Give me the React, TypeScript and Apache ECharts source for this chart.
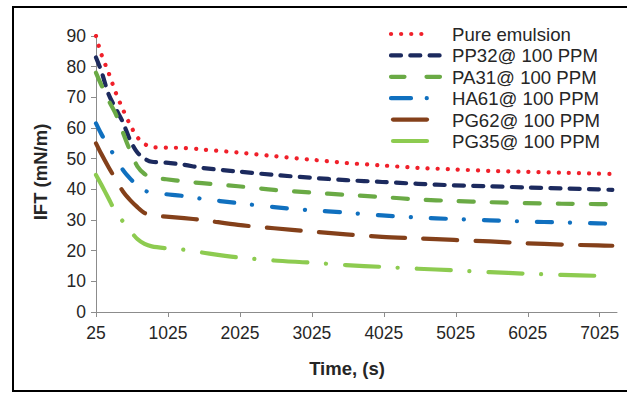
import React, { useEffect, useRef } from "react";
import * as echarts from "echarts";

const seriesNames = [
  "Pure emulsion",
  "PP32@ 100 PPM",
  "PA31@ 100 PPM",
  "HA61@ 100 PPM",
  "PG62@ 100 PPM",
  "PG35@ 100 PPM",
];

const timeS = [25, 100, 200, 300, 400, 500, 600, 700, 800, 1000, 1250, 1500, 2000, 2500, 3000, 3500, 4000, 4500, 5000, 5500, 6000, 6500, 7000, 7200];

const pureEmulsion = [90, 84, 78, 71.5, 66, 61, 57, 54.8, 53.8, 53.6, 53.5, 53, 52, 50.8, 49.7, 48.6, 47.8, 47, 46.5, 46, 45.7, 45.4, 45.1, 45];
const pp32 = [83, 78.5, 71, 66.3, 61.8, 56, 52, 50, 49, 48.7, 48, 47, 45.8, 44.7, 43.8, 43, 42.4, 41.8, 41.3, 41, 40.6, 40.3, 40, 39.8];
const pa31 = [78, 74, 69, 64.5, 58.5, 52.5, 47.5, 45, 43.8, 43.3, 42.6, 42, 41, 39.8, 39, 38.2, 37.5, 36.7, 36.2, 35.8, 35.5, 35.3, 35.2, 35.1];
const ha61 = [61.5, 58, 54, 50.2, 46.3, 43.5, 41.2, 39.6, 38.9, 38.4, 37.8, 36.9, 35.5, 34.2, 33.2, 32.4, 31.5, 30.8, 30.3, 29.9, 29.5, 29.2, 28.9, 28.8];
const pg62 = [55, 51.5, 47.2, 43.2, 39.3, 36.5, 34.2, 32.3, 31.4, 31.1, 30.6, 30, 28.4, 27.3, 26.3, 25.3, 24.5, 24, 23.5, 23, 22.4, 22, 21.7, 21.6];
const pg35 = [44.7, 41.5, 37, 32.5, 29.5, 26.5, 23.8, 22.2, 21.4, 20.8, 20.3, 19.4, 17.8, 16.8, 16.1, 15.3, 14.7, 14.1, 13.6, 13, 12.5, 12.1, 11.8, 11.7];

const xTickLabels = ["25", "1025", "2025", "3025", "4025", "5025", "6025", "7025"];
const yMin = 0;
const yMax = 90;
const yStep = 10;
const xStart = 25;
const xSpan = 7240;

const allValues = [pureEmulsion, pp32, pa31, ha61, pg62, pg35];
const colors = ["#F0202A", "#1C2A5E", "#6AAA45", "#1070BF", "#84401A", "#8DCB50"];
const dashes: number[][] = [
  [0.1, 10],
  [10, 9.3],
  [15, 18],
  [15, 18, 0.1, 20],
  [34, 18.3],
  [34, 18.7, 0.1, 19],
];
// legend sample styling: [x1, x2, dash]
const legendSamples: [number, number, number[] | null][] = [
  [391, 431.2, [0.1, 10]],
  [391, 441, [10, 9.3]],
  [391, 441, [13.5, 22]],
  [391, 427.2, [20, 15.7, 0.1, 50]],
  [393, 427, null],
  [393, 427, null],
];

export default function App() {
  const ref = useRef<HTMLDivElement>(null);
  useEffect(() => {
    if (!ref.current) return;
    const chart = echarts.init(ref.current, undefined, { renderer: "svg" });
    const font = "'Liberation Sans', Arial, sans-serif";
    const series = seriesNames.map((name, i) => ({
      name,
      type: "line",
      data: timeS.map((t, j) => [t - xStart, allValues[i][j]]),
      symbol: "none",
      smooth: 0.3,
      lineStyle: {
        color: colors[i],
        width: 4.2,
        type: dashes[i],
        cap: "round",
        join: "round",
      },
      itemStyle: { color: colors[i] },
    }));

    const legendTop = 34;
    const legendStep = 21.4;
    const legendGraphics: any[] = [];
    seriesNames.forEach((name, i) => {
      const y = legendTop + i * legendStep;
      const [x1, x2, dash] = legendSamples[i];
      legendGraphics.push({
        type: "line",
        shape: { x1, y1: y, x2, y2: y },
        style: {
          stroke: colors[i],
          lineWidth: 4.2,
          lineCap: "round",
          lineDash: dash ?? undefined,
        },
        silent: true,
      });
      legendGraphics.push({
        type: "text",
        x: 452,
        y: y + 0.5,
        style: {
          text: name,
          fontFamily: font,
          fontSize: 18.6,
          fill: "#262626",
          align: "left",
          verticalAlign: "middle",
        },
        silent: true,
      });
    });

    chart.setOption({
      animation: false,
      backgroundColor: "#ffffff",
      grid: { left: 96, right: 10, top: 36, bottom: 82, containLabel: false },
      xAxis: {
        type: "value",
        min: 0,
        max: xSpan,
        interval: 1000,
        splitLine: { show: false },
        axisLine: { show: true, lineStyle: { color: "#8C8C8C", width: 1 } },
        axisTick: { show: true, length: 5, lineStyle: { color: "#8C8C8C" } },
        axisLabel: {
          margin: 12,
          fontFamily: font,
          fontSize: 17.5,
          color: "#262626",
          showMaxLabel: false,
          formatter: (v: number) => xTickLabels[Math.round(v / 1000)] ?? "",
        },
      },
      yAxis: {
        type: "value",
        min: yMin,
        max: yMax,
        interval: yStep,
        splitLine: { show: false },
        axisLine: { show: true, lineStyle: { color: "#8C8C8C", width: 1 } },
        axisTick: { show: true, length: 5, lineStyle: { color: "#8C8C8C" } },
        axisLabel: {
          margin: 10,
          fontFamily: font,
          fontSize: 17.5,
          color: "#262626",
        },
      },
      graphic: [
        {
          type: "rect",
          shape: { x: 13, y: 7, width: 700, height: 384 },
          style: { fill: "none", stroke: "#000000", lineWidth: 2 },
          silent: true,
        },
        {
          type: "text",
          x: 40,
          y: 172,
          rotation: Math.PI / 2,
          style: {
            text: "IFT (mN/m)",
            fontFamily: font,
            fontSize: 18.5,
            fontWeight: "bold",
            fill: "#262626",
            align: "center",
            verticalAlign: "middle",
          },
        },
        {
          type: "text",
          x: 347,
          y: 368,
          style: {
            text: "Time, (s)",
            fontFamily: font,
            fontSize: 18.5,
            fontWeight: "bold",
            fill: "#262626",
            align: "center",
            verticalAlign: "middle",
          },
        },
        ...legendGraphics,
      ],
      series,
    });
    return () => chart.dispose();
  }, []);
  return (
    <div
      ref={ref}
      style={{ position: "fixed", left: 0, top: 0, width: 627, height: 394 }}
    />
  );
}
